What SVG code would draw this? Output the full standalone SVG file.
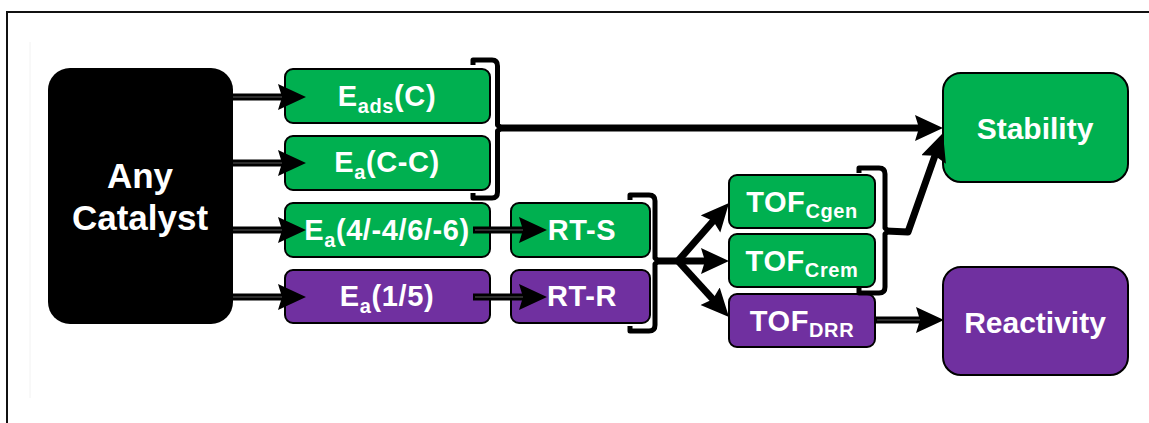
<svg xmlns="http://www.w3.org/2000/svg" width="1149" height="423" viewBox="0 0 1149 423">
  <style>
    .lbl { font-family: "Liberation Sans", Arial, sans-serif; font-weight: bold; fill: #ffffff; text-anchor: middle; }
    .sm { font-size: 29px; letter-spacing: 0.6px; }
    .big { font-size: 30px; }
    .sub { font-size: 20px; }
    .green { fill: #00B050; stroke: #000; stroke-width: 2; }
    .purple { fill: #7030A0; stroke: #000; stroke-width: 2; }
    .shaft { stroke: #000; stroke-width: 7; fill: none; }
    .shine { stroke: #3c3c3c; stroke-width: 1.6; fill: none; }
    .brace { stroke: #000; stroke-width: 5; fill: none; stroke-linejoin: round; }
  </style>
  <defs>
    <marker id="head" markerUnits="userSpaceOnUse" markerWidth="30" markerHeight="28" refX="8" refY="13" orient="auto">
      <path d="M0,0 L28,13 L0,26 L4,13 z" fill="#000"/>
    </marker>
  </defs>

  <!-- page frame -->
  <line x1="30" y1="42" x2="30" y2="398" stroke="#f2f2f2" stroke-width="1"/>
  <path d="M7,423 V12 H1149" stroke="#111" stroke-width="2" fill="none"/>

  <!-- source -->
  <g id="any-catalyst">
    <rect x="48" y="68" width="185" height="256" rx="22" fill="#000"/>
    <text class="lbl" x="140" y="188" font-size="35">Any</text>
    <text class="lbl" x="140" y="230" font-size="35">Catalyst</text>
  </g>

  <!-- descriptors -->
  <g id="eads-c">
    <rect class="green" x="285" y="69" width="205" height="54" rx="8"/>
    <text class="lbl sm" x="387" y="106">E<tspan class="sub" dy="7">ads</tspan><tspan dy="-7">(C)</tspan></text>
  </g>
  <g id="ea-cc">
    <rect class="green" x="285" y="136" width="205" height="54" rx="8"/>
    <text class="lbl sm" x="387" y="172">E<tspan class="sub" dy="7">a</tspan><tspan dy="-7">(C-C)</tspan></text>
  </g>
  <g id="ea-4646">
    <rect class="green" x="285" y="203" width="205" height="54" rx="8"/>
    <text class="lbl sm" x="387" y="240">E<tspan class="sub" dy="7">a</tspan><tspan dy="-7">(4/-4/6/-6)</tspan></text>
  </g>
  <g id="ea-15">
    <rect class="purple" x="285" y="270" width="205" height="53" rx="8"/>
    <text class="lbl sm" x="387" y="306">E<tspan class="sub" dy="7">a</tspan><tspan dy="-7">(1/5)</tspan></text>
  </g>

  <g id="rt-s">
    <rect class="green" x="511" y="203" width="139" height="54" rx="8"/>
    <text class="lbl sm" x="582" y="240">RT-S</text>
  </g>
  <g id="rt-r">
    <rect class="purple" x="511" y="270" width="139" height="53" rx="8"/>
    <text class="lbl sm" x="582" y="306">RT-R</text>
  </g>

  <!-- turnover frequencies -->
  <g id="tof-cgen">
    <rect class="green" x="729" y="175" width="146" height="53" rx="8"/>
    <text class="lbl sm" x="802" y="212">TOF<tspan class="sub" dy="6">Cgen</tspan></text>
  </g>
  <g id="tof-crem">
    <rect class="green" x="729" y="234" width="146" height="53" rx="8"/>
    <text class="lbl sm" x="802" y="271">TOF<tspan class="sub" dy="6">Crem</tspan></text>
  </g>
  <g id="tof-drr">
    <rect class="purple" x="729" y="294" width="146" height="53" rx="8"/>
    <text class="lbl sm" x="802" y="331">TOF<tspan class="sub" dy="6">DRR</tspan></text>
  </g>

  <!-- outcomes -->
  <g id="stability">
    <rect class="green" x="943" y="73" width="185" height="109" rx="18"/>
    <text class="lbl big" x="1035" y="139">Stability</text>
  </g>
  <g id="reactivity">
    <rect class="purple" x="943" y="267" width="185" height="108" rx="18"/>
    <text class="lbl big" x="1035" y="333">Reactivity</text>
  </g>

  <!-- connectors -->
  <g id="connectors">
    <!-- catalyst to descriptors -->
    <line class="shaft" x1="233" y1="97" x2="286" y2="97" marker-end="url(#head)"/>
    <line class="shaft" x1="233" y1="163" x2="286" y2="163" marker-end="url(#head)"/>
    <line class="shaft" x1="233" y1="230" x2="286" y2="230" marker-end="url(#head)"/>
    <line class="shaft" x1="233" y1="297" x2="286" y2="297" marker-end="url(#head)"/>
    <line class="shine" x1="233" y1="97" x2="282" y2="97"/>
    <line class="shine" x1="233" y1="163" x2="282" y2="163"/>
    <line class="shine" x1="233" y1="230" x2="282" y2="230"/>
    <line class="shine" x1="233" y1="297" x2="282" y2="297"/>

    <!-- energies to rate terms -->
    <line class="shaft" x1="473" y1="230" x2="527" y2="230" marker-end="url(#head)"/>
    <line class="shaft" x1="473" y1="297" x2="527" y2="297" marker-end="url(#head)"/>
    <line class="shine" x1="475" y1="230" x2="523" y2="230"/>
    <line class="shine" x1="475" y1="297" x2="523" y2="297"/>

    <!-- bracket: Eads(C), Ea(C-C) to Stability -->
    <path class="brace" d="M473,65 V60 H492 Q497.5,60 497.5,66 V125 L501,128 L497.5,131 V192 Q497.5,198 492,198 H473 V193"/>
    <line class="shaft" x1="499" y1="128" x2="923" y2="128" marker-end="url(#head)"/>

    <!-- bracket: RT-S, RT-R to TOFs -->
    <path class="brace" d="M630,200 V195 H649 Q655,195 655,201 V258 L658,261 L655,264 V325 Q655,331 649,331 H630 V326"/>
    <line class="shaft" x1="656" y1="261" x2="680" y2="261"/>
    <line class="shaft" x1="678" y1="261" x2="715.8" y2="218" marker-end="url(#head)"/>
    <line class="shaft" x1="678" y1="261" x2="709" y2="261" marker-end="url(#head)"/>
    <line class="shaft" x1="678" y1="261" x2="715.5" y2="302.2" marker-end="url(#head)"/>

    <!-- bracket: TOF Cgen, TOF Crem to Stability -->
    <path class="brace" d="M859,173 V168 H879 Q885,168 885,174 V228 L888,231 L885,234 V287 Q885,293 879,293 H859 V288"/>
    <polyline class="shaft" points="886,231 908,232 936.3,151.9" marker-end="url(#head)" stroke-linejoin="round"/>

    <!-- TOF DRR to Reactivity -->
    <line class="shaft" x1="875" y1="320" x2="924" y2="320" marker-end="url(#head)"/>
    <line class="shine" x1="877" y1="320" x2="920" y2="320"/>
  </g>
</svg>
